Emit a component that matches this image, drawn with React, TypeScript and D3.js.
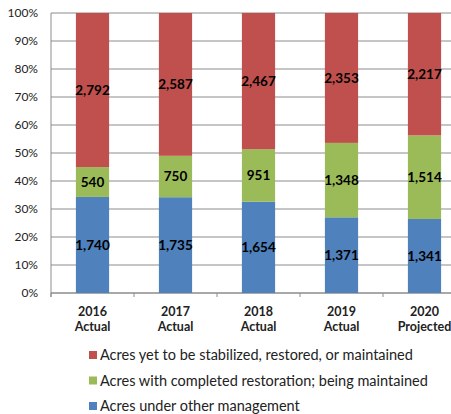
import React, { useRef, useEffect } from 'react';
import * as d3 from 'd3';

const years = ['2016', '2017', '2018', '2019', '2020'];
const yearNotes = ['Actual', 'Actual', 'Actual', 'Actual', 'Projected'];
const otherMgmt = [1740, 1735, 1654, 1371, 1341];
const completed = [540, 750, 951, 1348, 1514];
const remaining = [2792, 2587, 2467, 2353, 2217];
const seriesNames = [
  'Acres under other management',
  'Acres with completed restoration; being maintained',
  'Acres yet to be stabilized, restored, or maintained',
];
const seriesColors = ['#4F81BD', '#9BBB59', '#C0504D'];
const yTicks = [0, 0.1, 0.2, 0.3, 0.4, 0.5, 0.6, 0.7, 0.8, 0.9, 1];

const W = 451;
const H = 414;
const FONT = 'Lato, "Open Sans", sans-serif';

const App: React.FC = () => {
  const svgRef = useRef<SVGSVGElement>(null);

  useEffect(() => {
    if (!svgRef.current) return;
    const svg = d3.select(svgRef.current);
    svg.selectAll('*').remove();

    const left = 51;
    const top = 13;
    const bottom = 293;
    const right = 466; // plot runs past the picture edge

    const x = d3.scaleBand<string>().domain(years).range([left, right]).paddingInner(0.6).paddingOuter(0.3);
    const y = d3.scaleLinear().domain([0, 1]).range([bottom, top]);

    const rows = years.map((yr, i) => ({
      year: yr,
      0: otherMgmt[i],
      1: completed[i],
      2: remaining[i],
    }));
    const stack = d3.stack<any>().keys(['0', '1', '2']).offset(d3.stackOffsetExpand);
    const layers = stack(rows);

    // gridlines
    svg
      .append('g')
      .selectAll('line')
      .data(yTicks)
      .join('line')
      .attr('x1', left)
      .attr('x2', right)
      .attr('y1', (d) => y(d))
      .attr('y2', (d) => y(d))
      .attr('stroke', '#8c8c8c')
      .attr('stroke-width', 1);

    // y labels
    svg
      .append('g')
      .selectAll('text')
      .data(yTicks)
      .join('text')
      .attr('x', 38)
      .attr('y', (d) => y(d))
      .attr('dy', '0.35em')
      .attr('text-anchor', 'end')
      .attr('font-family', FONT)
      .attr('font-size', 12)
      .attr('fill', '#222')
      .text((d) => d3.format('.0%')(d));

    // axes
    svg.append('line').attr('x1', left).attr('x2', left).attr('y1', top).attr('y2', bottom + 4).attr('stroke', '#8c8c8c');
    svg.append('line').attr('x1', left).attr('x2', right).attr('y1', bottom).attr('y2', bottom).attr('stroke', '#8c8c8c');
    const step = x.step();
    years.forEach((_, i) => {
      const tx = left + i * step;
      svg.append('line').attr('x1', tx).attr('x2', tx).attr('y1', bottom).attr('y2', bottom + 4).attr('stroke', '#8c8c8c');
    });

    // bars
    layers.forEach((layer, li) => {
      const g = svg.append('g');
      g.selectAll('rect')
        .data(layer)
        .join('rect')
        .attr('x', (d: any) => x(d.data.year)!)
        .attr('width', x.bandwidth())
        .attr('y', (d: any) => y(d[1]))
        .attr('height', (d: any) => y(d[0]) - y(d[1]))
        .attr('fill', seriesColors[li]);
      g.selectAll('text')
        .data(layer)
        .join('text')
        .attr('x', (d: any) => x(d.data.year)! + x.bandwidth() / 2)
        .attr('y', (d: any) => (y(d[0]) + y(d[1])) / 2)
        .attr('dy', '0.35em')
        .attr('text-anchor', 'middle')
        .attr('font-family', FONT)
        .attr('font-weight', 'bold')
        .attr('font-size', 13.5)
        .attr('fill', '#000')
        .text((d: any) => d3.format(',')(d.data[String(li)]));
    });

    // category labels
    years.forEach((yr, i) => {
      const cx = x(yr)! + x.bandwidth() / 2;
      const t = svg
        .append('text')
        .attr('text-anchor', 'middle')
        .attr('font-family', FONT)
        .attr('font-weight', 'bold')
        .attr('font-size', 12.5)
        .attr('fill', '#222');
      t.append('tspan').attr('x', cx).attr('y', 316).text(yr);
      t.append('tspan').attr('x', cx).attr('y', 331).text(yearNotes[i]);
    });

    // legend (top entry is the top series)
    const legendOrder = [2, 1, 0];
    legendOrder.forEach((si, i) => {
      const ly = 355 + i * 25.5;
      svg.append('rect').attr('x', 89).attr('y', ly - 4).attr('width', 8).attr('height', 8).attr('fill', seriesColors[si]);
      svg
        .append('text')
        .attr('x', 100)
        .attr('y', ly)
        .attr('dy', '0.35em')
        .attr('font-family', FONT)
        .attr('font-size', 14.5)
        .attr('fill', '#222')
        .text(seriesNames[si]);
    });
  }, []);

  return (
    <svg
      ref={svgRef}
      width={W}
      height={H}
      style={{ position: 'absolute', left: 0, top: 0, background: '#fff' }}
    />
  );
};

export default App;
